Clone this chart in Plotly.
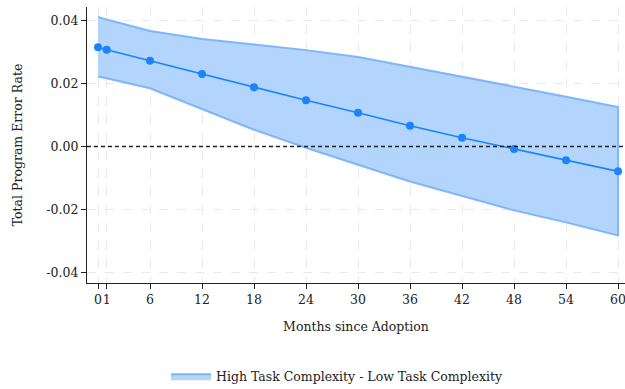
import plotly.graph_objects as go

months = [0, 1, 6, 12, 18, 24, 30, 36, 42, 48, 54, 60]
estimate = [0.0315, 0.0307, 0.0272, 0.0230, 0.0188, 0.0147, 0.0107, 0.0066, 0.0028, -0.0008, -0.0044, -0.0079]
upper = [0.0411, 0.0403, 0.0367, 0.0341, 0.0324, 0.0306, 0.0284, 0.0253, 0.0223, 0.0190, 0.0158, 0.0125]
lower = [0.0222, 0.0217, 0.0185, 0.0119, 0.0053, -0.0004, -0.0058, -0.0111, -0.0158, -0.0203, -0.0241, -0.0283]
y_ticks = [-0.04, -0.02, 0.0, 0.02, 0.04]
y_tick_labels = ["-0.04", "-0.02", "0.00", "0.02", "0.04"]
band_name = "High Task Complexity - Low Task Complexity"

FONT = "DejaVu Serif"
FS = 12.5

fig = go.Figure()

fig.add_trace(go.Scatter(
    x=months + months[::-1],
    y=upper + lower[::-1],
    fill="toself",
    fillcolor="rgba(179,212,253,1)",
    line=dict(color="#7fb6f6", width=2),
    mode="lines",
    name=band_name,
    showlegend=True,
    hoverinfo="skip",
))

fig.add_hline(y=0, line=dict(color="#222222", width=1.5, dash="4px,3px"))

fig.add_trace(go.Scatter(
    x=months,
    y=estimate,
    mode="lines+markers",
    line=dict(color="#1a84fb", width=1.6),
    marker=dict(color="#1a84fb", size=8),
    showlegend=False,
))

fig.update_layout(
    width=625,
    height=389,
    margin=dict(l=87, r=0, t=7, b=106, autoexpand=False),
    paper_bgcolor="white",
    plot_bgcolor="white",
    font=dict(family=FONT, size=FS, color="#222222"),
    showlegend=True,
    legend=dict(
        orientation="h",
        x=0.54,
        xanchor="center",
        xref="container",
        yref="container",
        y=0.032,
        yanchor="middle",
        font=dict(family=FONT, size=FS, color="#222222"),
        itemwidth=40,
    ),
    xaxis=dict(
        range=[-1.27, 60.8],
        tickmode="array",
        tickvals=months,
        ticktext=[str(m) for m in months],
        tickangle=0,
        ticklabeloverflow="allow",
        showgrid=True,
        gridcolor="#e9e9e9",
        griddash="dash",
        gridwidth=1,
        showline=True,
        linecolor="#222222",
        linewidth=1.3,
        ticks="outside",
        ticklen=5,
        tickcolor="#222222",
        zeroline=False,
        automargin=False,
        title=dict(text="Months since Adoption", font=dict(family=FONT, size=FS), standoff=16),
    ),
    yaxis=dict(
        range=[-0.04336, 0.0443],
        tickmode="array",
        tickvals=y_ticks,
        ticktext=y_tick_labels,
        showgrid=True,
        gridcolor="#e9e9e9",
        griddash="dash",
        gridwidth=1,
        showline=True,
        linecolor="#222222",
        linewidth=1.3,
        ticks="outside",
        ticklen=5,
        tickcolor="#222222",
        zeroline=False,
        automargin=False,
        title=dict(text="Total Program Error Rate", font=dict(family=FONT, size=FS), standoff=20),
    ),
)

fig.write_html("out.html")
